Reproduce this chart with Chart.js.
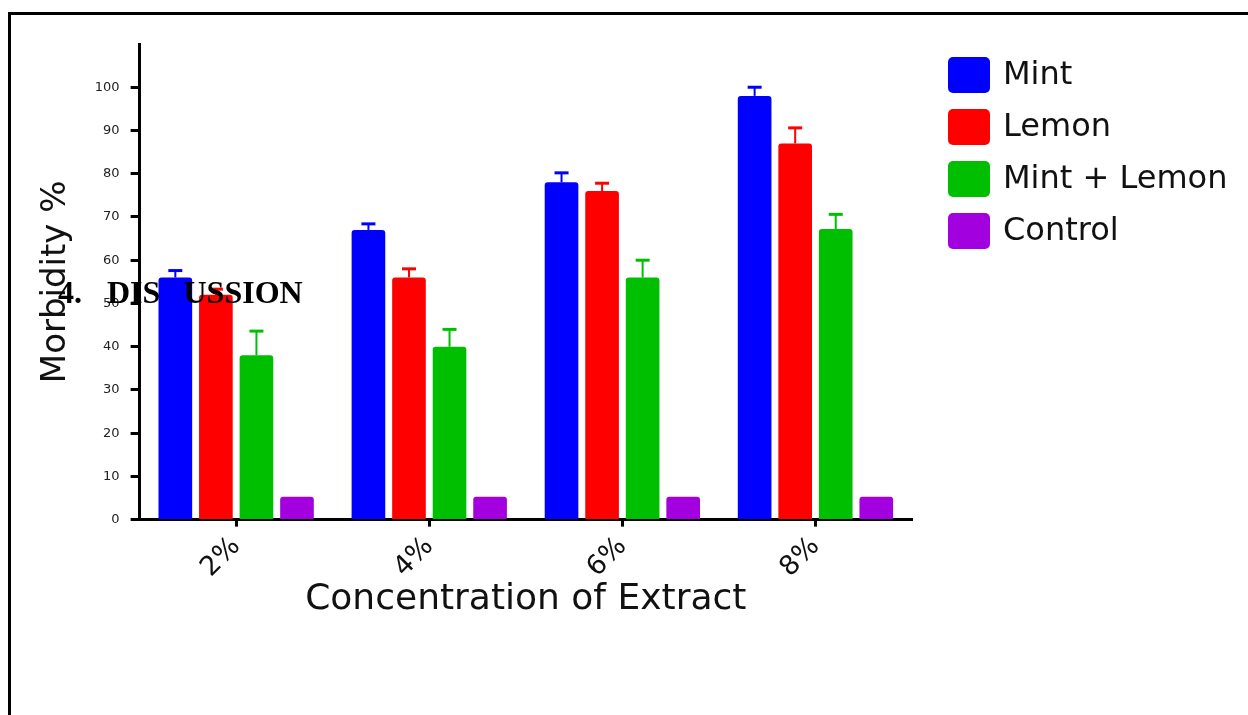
<!DOCTYPE html>
<html>
<head>
<meta charset="utf-8">
<script src="https://cdn.jsdelivr.net/npm/chart.js@4"></script>
<style>
  html, body { margin: 0; padding: 0; background: #fff; overflow: hidden; }
  #page { position: relative; width: 1248px; height: 715px; overflow: hidden; }
  #frame { position: absolute; left: 8px; top: 12px; width: 1400px; height: 900px; border: 3px solid #000; }
  #chart { position: absolute; left: 0; top: 0; }
  .heading { position: absolute; top: 274px; font-family: "Liberation Serif", "Times New Roman", serif; font-weight: bold; font-size: 32px; color: #000; white-space: nowrap; }
</style>
</head>
<body>
<div id="page">
  <div id="frame"></div>
  <canvas id="chart" width="1248" height="715"></canvas>
  <div class="heading" style="left:58px">4.</div>
  <div class="heading" style="left:107px">DIS<span style="color:transparent">C</span>USSION</div>
</div>
<script>
// 数値は図から読み取り
const categories = ['2%', '4%', '6%', '8%'];
const mintValues = [56, 67, 78, 98];
const lemonValues = [52, 56, 76, 87];
const mixValues = [38, 40, 56, 67.2];
const controlValues = [5.3, 5.3, 5.3, 5.3];

const mintErrors = [1.6, 1.4, 2.2, 2];
const lemonErrors = [1.3, 2, 1.8, 3.6];
const mixErrors = [5.6, 4, 4, 3.4];
const controlErrors = [0, 0, 0, 0];

const yTicks = [0, 10, 20, 30, 40, 50, 60, 70, 80, 90, 100];

const seriesNames = ['Mint', 'Lemon', 'Mint + Lemon', 'Control'];
const seriesColors = ['#0000ff', '#ff0000', '#00bf00', '#a300e0'];

const allValues = [mintValues, lemonValues, mixValues, controlValues];
const allErrors = [mintErrors, lemonErrors, mixErrors, controlErrors];

const fontFamily = '"DejaVu Sans", sans-serif';

// 上側だけのエラーバー
const errorBars = {
    id: 'errorBars',
    afterDatasetsDraw(chart) {
        const ctx = chart.ctx;
        const yScale = chart.scales.y;
        chart.data.datasets.forEach((ds, i) => {
            const meta = chart.getDatasetMeta(i);
            meta.data.forEach((bar, j) => {
                const err = allErrors[i][j];
                if (!err) return;
                const top = yScale.getPixelForValue(ds.data[j] + err);
                ctx.save();
                ctx.strokeStyle = ds.backgroundColor;
                ctx.lineWidth = 2;
                ctx.beginPath();
                ctx.moveTo(bar.x, bar.y);
                ctx.lineTo(bar.x, top);
                ctx.stroke();
                ctx.lineWidth = 3;
                ctx.beginPath();
                ctx.moveTo(bar.x - 7, top);
                ctx.lineTo(bar.x + 7, top);
                ctx.stroke();
                ctx.restore();
            });
        });
    }
};

// 右側の凡例（チャート領域から離して置く）
const sideLegend = {
    id: 'sideLegend',
    afterDraw(chart) {
        const ctx = chart.ctx;
        const x = chart.chartArea.right + 36;
        ctx.save();
        chart.data.datasets.forEach((ds, i) => {
            const top = 57 + i * 52;
            ctx.fillStyle = ds.backgroundColor;
            ctx.beginPath();
            ctx.roundRect(x, top, 42, 36, 5);
            ctx.fill();
            ctx.fillStyle = '#111';
            ctx.font = '32px ' + fontFamily;
            ctx.textBaseline = 'middle';
            ctx.textAlign = 'left';
            ctx.fillText(ds.label, x + 55, top + 19);
        });
        ctx.restore();
    }
};

const ctx = document.getElementById('chart').getContext('2d');
new Chart(ctx, {
    type: 'bar',
    data: {
        labels: categories,
        datasets: seriesNames.map((name, i) => ({
            label: name,
            data: allValues[i],
            backgroundColor: seriesColors[i],
            borderWidth: 0,
            borderRadius: { topLeft: 3, topRight: 3, bottomLeft: 0, bottomRight: 0 },
            borderSkipped: false,
            categoryPercentage: 0.84,
            barPercentage: 0.83
        }))
    },
    options: {
        responsive: false,
        devicePixelRatio: 1,
        animation: false,
        layout: {
            padding: { left: 30, top: 44, right: 336, bottom: 97 }
        },
        plugins: {
            legend: { display: false },
            tooltip: { enabled: false }
        },
        scales: {
            x: {
                grid: {
                    display: true,
                    drawOnChartArea: false,
                    offset: false,
                    tickLength: 7,
                    tickWidth: 3,
                    tickColor: '#000'
                },
                border: { display: true, color: '#000', width: 3 },
                ticks: {
                    color: '#111',
                    font: { family: fontFamily, size: 27, lineHeight: 1 },
                    minRotation: 45,
                    maxRotation: 45,
                    padding: 6
                },
                title: {
                    display: true,
                    text: 'Concentration of Extract',
                    color: '#111',
                    font: { family: fontFamily, size: 36, lineHeight: 1 },
                    padding: { top: -6, bottom: 0 }
                }
            },
            y: {
                min: 0,
                max: 110,
                afterBuildTicks: axis => {
                    axis.ticks = yTicks.map(v => ({ value: v }));
                },
                grid: {
                    display: true,
                    drawOnChartArea: false,
                    tickLength: 9,
                    tickWidth: 3,
                    tickColor: '#000'
                },
                border: { display: true, color: '#000', width: 3 },
                ticks: {
                    color: '#222',
                    font: { family: fontFamily, size: 13 },
                    padding: 11
                },
                title: {
                    display: true,
                    text: 'Morbidity %',
                    color: '#111',
                    font: { family: fontFamily, size: 34 },
                    padding: { top: 6, bottom: 7 }
                }
            }
        }
    },
    plugins: [errorBars, sideLegend]
});
</script>
</body>
</html>
